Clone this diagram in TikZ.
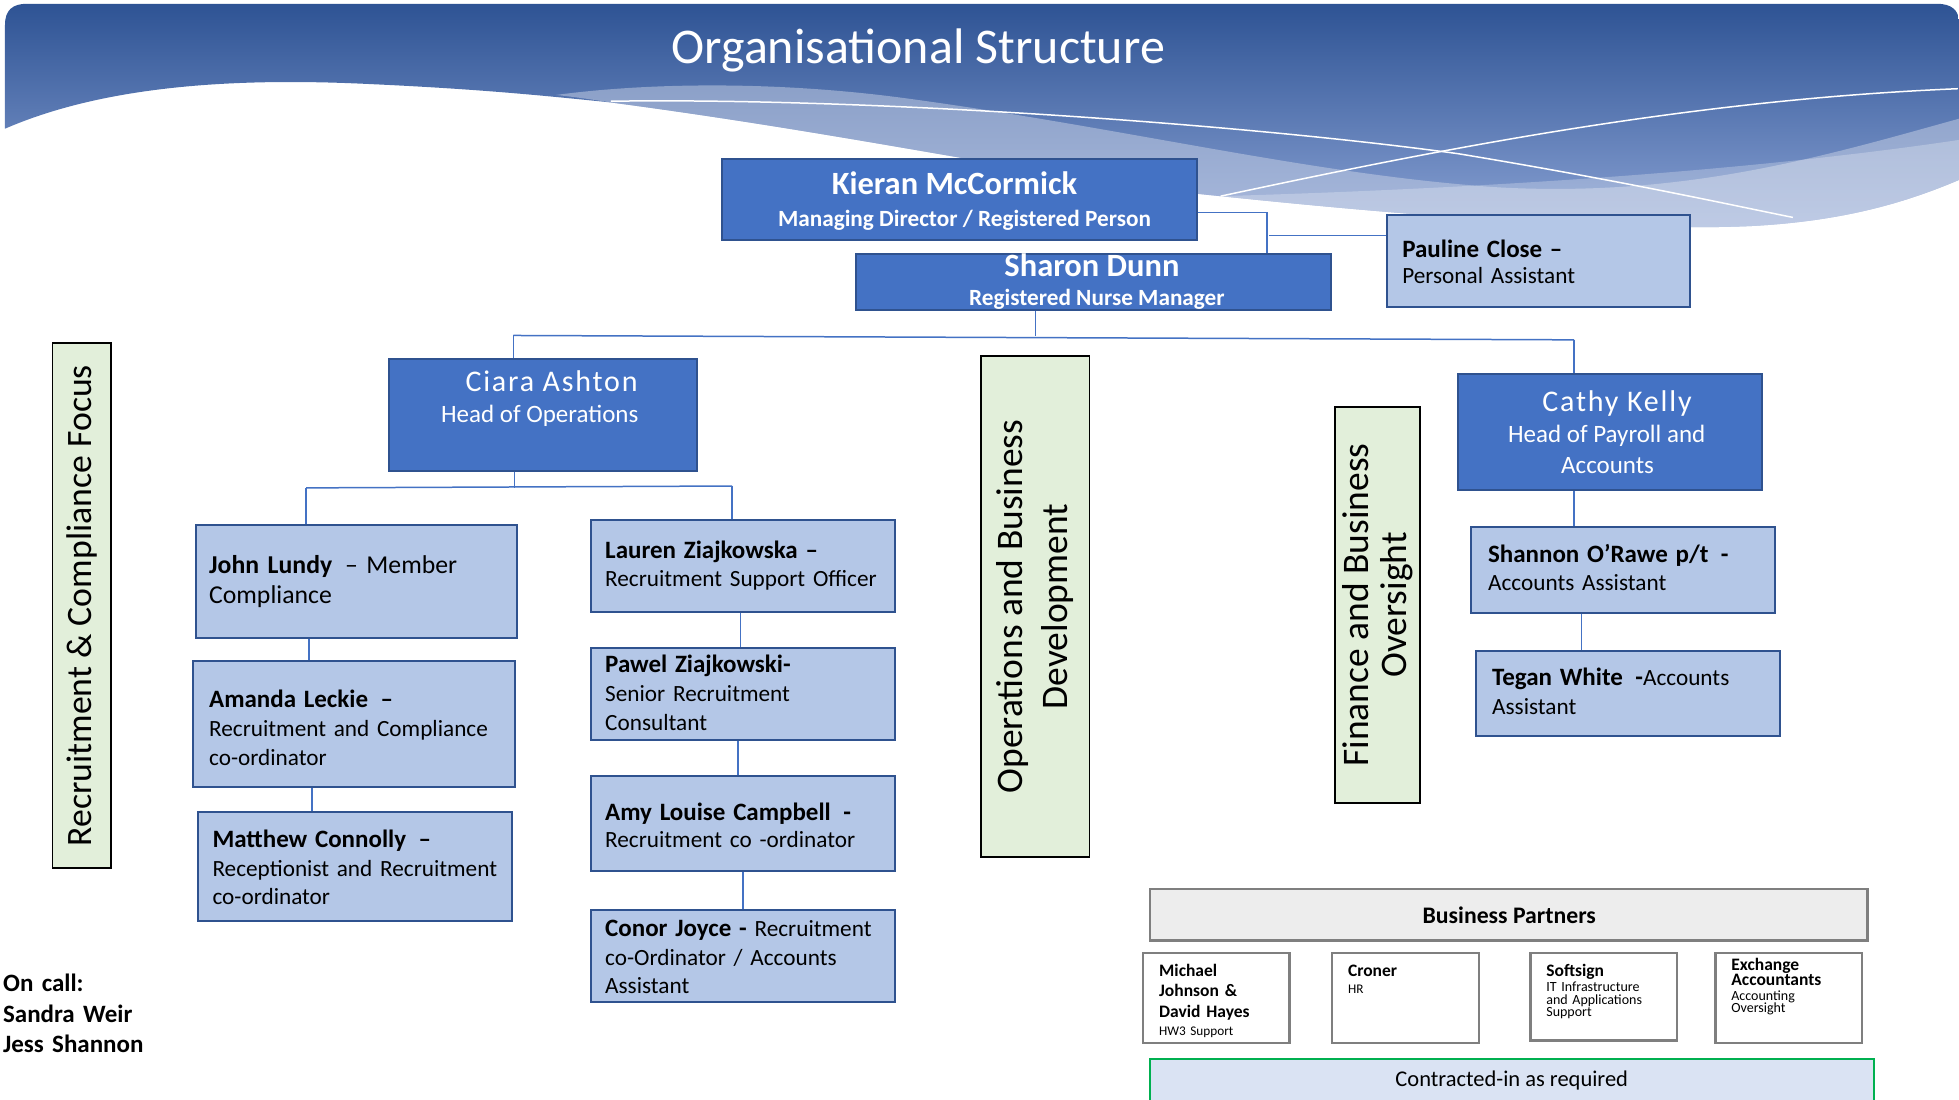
\documentclass[tikz,border=0pt]{standalone}
\usepackage{fontspec}
\setmainfont{Carlito}
\newfontfamily\spacedfont[LetterSpace=6]{Carlito}
\usetikzlibrary{fit}
\definecolor{dkfill}{HTML}{4472C4}
\definecolor{dkline}{HTML}{2F528F}
\definecolor{ltfill}{HTML}{B4C7E7}
\definecolor{grfill}{HTML}{E2EFDA}
\definecolor{bgtop}{HTML}{2E5394}
\definecolor{bgbot}{HTML}{8AA2D4}
\definecolor{pgray}{HTML}{7F7F7F}
\definecolor{bpfill}{HTML}{EDEDED}
\definecolor{ctfill}{HTML}{DAE3F3}
\definecolor{ctline}{HTML}{00B050}
\definecolor{bandcol}{HTML}{C9D2E6}
\newcommand{\myfs}[2]{\fontsize{#1}{#2}\selectfont}
\newcommand{\nm}[1]{{\bfseries\fontsize{10}{10}\selectfont #1}}
\begin{document}
\begin{tikzpicture}[x=0.5pt,y=-0.5pt,
  dkbox/.style={draw=dkline,fill=dkfill,line width=0.8pt,inner sep=0pt},
  ltbox/.style={draw=dkline,fill=ltfill,line width=0.8pt,inner sep=0pt},
  grbox/.style={draw=black,fill=grfill,line width=0.7pt,inner sep=0pt},
  pbox/.style={draw=pgray,fill=white,line width=1pt,inner sep=0pt},
  conn/.style={draw=dkfill,line width=0.6pt},
  txt/.style={inner sep=0pt,anchor=base west,align=left,text width=200pt},
  ctxt/.style={inner sep=0pt,anchor=base},
  wline/.style={draw=white,line width=0.6pt}]
\useasboundingbox (0,0) rectangle (1568,880);
\fill[white] (0,0) rectangle (1568,880);
% banner
\shade[top color=bgtop,bottom color=bgbot] (4,103) -- (4,20) .. controls (4,8) and (10,3) .. (22,3) -- (1550,3) .. controls (1562,3) and (1568,8) .. (1568,18) -- (1568,144)
  .. controls (1530,160) and (1480,177) .. (1400,181)
  .. controls (1300,185) and (1150,175) .. (977,157)
  .. controls (850,145) and (700,110) .. (489,82)
  .. controls (430,76) and (380,71) .. (290,67)
  .. controls (180,62) and (80,70) .. (4,103) -- cycle;
\fill[bandcol,opacity=0.5] (445,76) .. controls (520,66) and (620,65) .. (720,78)
  .. controls (900,102) and (1050,140) .. (1200,150)
  .. controls (1350,158) and (1460,125) .. (1568,95) -- (1568,144)
  .. controls (1530,160) and (1480,177) .. (1400,181)
  .. controls (1300,185) and (1150,175) .. (977,157)
  .. controls (850,145) and (700,110) .. (489,82)
  .. controls (470,79) and (455,77) .. (445,76) -- cycle;
\fill[white,opacity=0.25] (977,157) .. controls (1150,152) and (1380,140) .. (1568,112) -- (1568,144)
  .. controls (1530,160) and (1480,177) .. (1400,181)
  .. controls (1300,185) and (1150,175) .. (977,157) -- cycle;
\draw[wline] (489,81) .. controls (700,78) and (1000,100) .. (1167,123) .. controls (1300,145) and (1390,165) .. (1435,174);
\draw[wline] (977,157) .. controls (1150,120) and (1350,80) .. (1567,71);
\node[ctxt,white,font=\myfs{20}{24}] (title) at (735,51.2) {Organisational Structure};

% top management
\node[dkbox,fit={(578,127) (958,192)}] (kieran) {};
\node[ctxt,white,font=\bfseries\myfs{13}{15}] (kieranname) at (764,155.5) {Kieran McCormick};
\node[ctxt,white,font=\bfseries\myfs{9.3}{11}] (kieranrole) at (772,181) {Managing Director / Registered Person};
\node[dkbox,fit={(685,203) (1065,248)}] (sharon) {};
\node[ctxt,white,font=\bfseries\myfs{13}{15}] (sharonname) at (874,221.3) {Sharon Dunn};
\node[ctxt,white,font=\bfseries\myfs{9.3}{11}] (sharonrole) at (878,244.5) {Registered Nurse Manager};
\node[ltbox,fit={(1110,172) (1353,246)}] (pauline) {};
\node[txt,font=\myfs{9.3}{10.4}] (paulinetext) at (1122,205.9) {\nm{Pauline Close –}\\Personal Assistant};

\coordinate (k1) at (1014,170);
\coordinate (k2) at (1016,188.5);
\draw[conn] (kieran.east |- k1) -- (k1) -- (k1 |- sharon.north);
\draw[conn] (k2) -- (k2 -| pauline.west);
\coordinate (s1) at (829,269);
\coordinate (hl) at (411,268.5);
\coordinate (hr) at (1260,272);
\draw[conn] (s1 |- sharon.south) -- (s1);
\draw[conn] (hl) -- (hr);

% Ciara branch
\node[dkbox,fit={(311,287) (558,377)}] (ciara) {};
\node[ctxt,white,font=\spacedfont\myfs{12}{14}] (ciaraname) at (441.5,313.3) {Ciara Ashton};
\node[ctxt,white,font=\myfs{10}{12}] (ciararole) at (432,338) {Head of Operations};
\draw[conn] (hl) -- (hl |- ciara.north);

\node[ltbox,fit={(157,420.5) (413.7,510.7)}] (john) {};
\node[txt,font=\myfs{10.3}{12.25}] (johntext) at (167,458.7) {{\bfseries John Lundy}\enspace– Member\\Compliance};
\node[ltbox,fit={(154.6,528.8) (412,629.9)}] (amanda) {};
\node[txt,font=\myfs{9.3}{11.7}] (amandatext) at (167,565.9) {\nm{Amanda Leckie\enspace–}\\Recruitment and Compliance\\co-ordinator};
\node[ltbox,fit={(158.3,649.9) (409.6,736.8)}] (matthew) {};
\node[txt,font=\myfs{9.3}{11.3}] (matthewtext) at (169.7,678.7) {\nm{Matthew Connolly\enspace–}\\Receptionist and Recruitment\\co-ordinator};

\node[ltbox,fit={(473,416) (716,490)}] (lauren) {};
\node[txt,font=\myfs{9.3}{11.3}] (laurentext) at (484,446.7) {\nm{Lauren Ziajkowska –}\\Recruitment Support Officer};
\node[ltbox,fit={(473,518.7) (716,592.5)}] (pawel) {};
\node[txt,font=\myfs{9.3}{11.7}] (paweltext) at (484,537.9) {\nm{Pawel Ziajkowski-}\\Senior Recruitment\\Consultant};
\node[ltbox,fit={(473,621.3) (716,697.3)}] (amy) {};
\node[txt,font=\myfs{9.3}{11.1}] (amytext) at (484,656.5) {\nm{Amy Louise Campbell\enspace-}\\Recruitment co -ordinator};
\node[ltbox,fit={(473,728) (716,802)}] (conor) {};
\node[txt,font=\myfs{9.3}{11.3}] (conortext) at (484,749.9) {\nm{Conor Joyce -} Recruitment\\co-Ordinator / Accounts\\Assistant};

\coordinate (c1) at (412,390.5);
\coordinate (cl) at (245,390.5);
\coordinate (cr) at (586,389);
\draw[conn] (c1 |- ciara.south) -- (c1);
\draw[conn] (cl) -- (cr);
\draw[conn] (cl) -- (cl |- john.north);
\draw[conn] (cr) -- (cr |- lauren.north);
\coordinate (x1) at (247.5,0);
\coordinate (x2) at (249.7,0);
\coordinate (x3) at (592.5,0);
\coordinate (x4) at (590.5,0);
\coordinate (x5) at (594.5,0);
\draw[conn] (john.south -| x1) -- (amanda.north -| x1);
\draw[conn] (amanda.south -| x2) -- (matthew.north -| x2);
\draw[conn] (lauren.south -| x3) -- (pawel.north -| x3);
\draw[conn] (pawel.south -| x4) -- (amy.north -| x4);
\draw[conn] (amy.south -| x5) -- (conor.north -| x5);

% green focus boxes
\node[grbox,fit={(42,274.7) (89,695)}] (recfocus) {};
\node[rotate=90,inner sep=0pt,font=\myfs{14.3}{17}] (recfocustext) at (recfocus.center) {Recruitment \& Compliance Focus};
\node[grbox,fit={(785.3,285) (872,686)}] (opsfocus) {};
\node[rotate=90,inner sep=0pt,align=center,font=\myfs{15}{18}] (opsfocustext) at (opsfocus.center) {Operations and Business\\Development};
\node[grbox,fit={(1068.5,325.5) (1136.8,643)}] (finfocus) {};
\node[rotate=90,inner sep=0pt,align=center,font=\myfs{15}{15.3}] (finfocustext) at (finfocus.center) {Finance and Business\\Oversight};

% Cathy branch
\node[dkbox,fit={(1167.2,299.2) (1410.1,392)}] (cathy) {};
\node[ctxt,white,font=\spacedfont\myfs{12}{14}] (cathyname) at (1294.3,329.3) {Cathy Kelly};
\node[ctxt,white,font=\myfs{10}{12}] (cathyrole1) at (1286,353.9) {Head of Payroll and};
\node[ctxt,white,font=\myfs{10}{12}] (cathyrole2) at (1286.7,378.7) {Accounts};
\draw[conn] (hr) -- (hr |- cathy.north);
\node[ltbox,fit={(1177.3,422.1) (1420.5,490.7)}] (shannon) {};
\node[txt,font=\myfs{9.3}{11.35}] (shannontext) at (1190.7,450.1) {\nm{Shannon O’Rawe p/t\enspace -}\\Accounts Assistant};
\node[ltbox,fit={(1181.3,520.8) (1424.5,588.8)}] (tegan) {};
\node[txt,font=\myfs{9.3}{11.35}] (tegantext) at (1193.9,548.8) {\nm{Tegan White\enspace -}Accounts\\Assistant};
\coordinate (x6) at (1260,0);
\coordinate (x7) at (1266,0);
\draw[conn] (cathy.south -| x6) -- (shannon.north -| x6);
\draw[conn] (shannon.south -| x7) -- (tegan.north -| x7);

% business partners
\node[draw=pgray,fill=bpfill,line width=1pt,inner sep=0pt,fit={(920.3,711.5) (1494.6,752.8)}] (bp) {};
\node[ctxt,font=\bfseries\myfs{9.5}{11}] (bptext) at (1208,739.5) {Business Partners};
\node[pbox,fit={(915,762.7) (1032,834.7)}] (mj) {};
\node[txt,font=\bfseries\myfs{7}{8.3}] (mjtext) at (927.4,781.3) {Michael\\Johnson \&\\David Hayes};
\node[txt,font=\myfs{5.3}{6}] (mjsub) at (927.4,828.5) {HW3 Support};
\node[pbox,fit={(1066.3,762.7) (1183.8,834.7)}] (croner) {};
\node[txt,font=\bfseries\myfs{7}{8.3}] (cronertext) at (1078.6,781.3) {Croner};
\node[txt,font=\myfs{5.3}{6}] (cronersub) at (1078.6,795.5) {HR};
\node[pbox,fit={(1225,762.7) (1342.4,832.9)}] (soft) {};
\node[txt,font=\bfseries\myfs{7}{8.3}] (softtext) at (1237.3,781.3) {Softsign};
\node[txt,font=\myfs{5.6}{4.85}] (softsub) at (1237.3,793.9) {IT Infrastructure\\and Applications\\Support};
\node[pbox,fit={(1373.1,762.7) (1490.2,834.7)}] (exch) {};
\node[txt,font=\bfseries\myfs{7}{6.15}] (exchtext) at (1385.4,776.5) {Exchange\\Accountants};
\node[txt,font=\myfs{5.6}{4.9}] (exchsub) at (1385.4,800.5) {Accounting\\Oversight};
\node[draw=ctline,fill=ctfill,line width=0.8pt,inner sep=0pt,fit={(920.8,847.5) (1500.2,895)}] (contract) {};
\node[ctxt,font=\myfs{9}{11}] (contracttext) at (1210,869.3) {Contracted-in as required};

% on call
\node[txt,font=\bfseries\myfs{10}{12.35}] (oncall) at (2.1,793.3) {On call:\\Sandra Weir\\Jess Shannon};
\end{tikzpicture}
\end{document}
